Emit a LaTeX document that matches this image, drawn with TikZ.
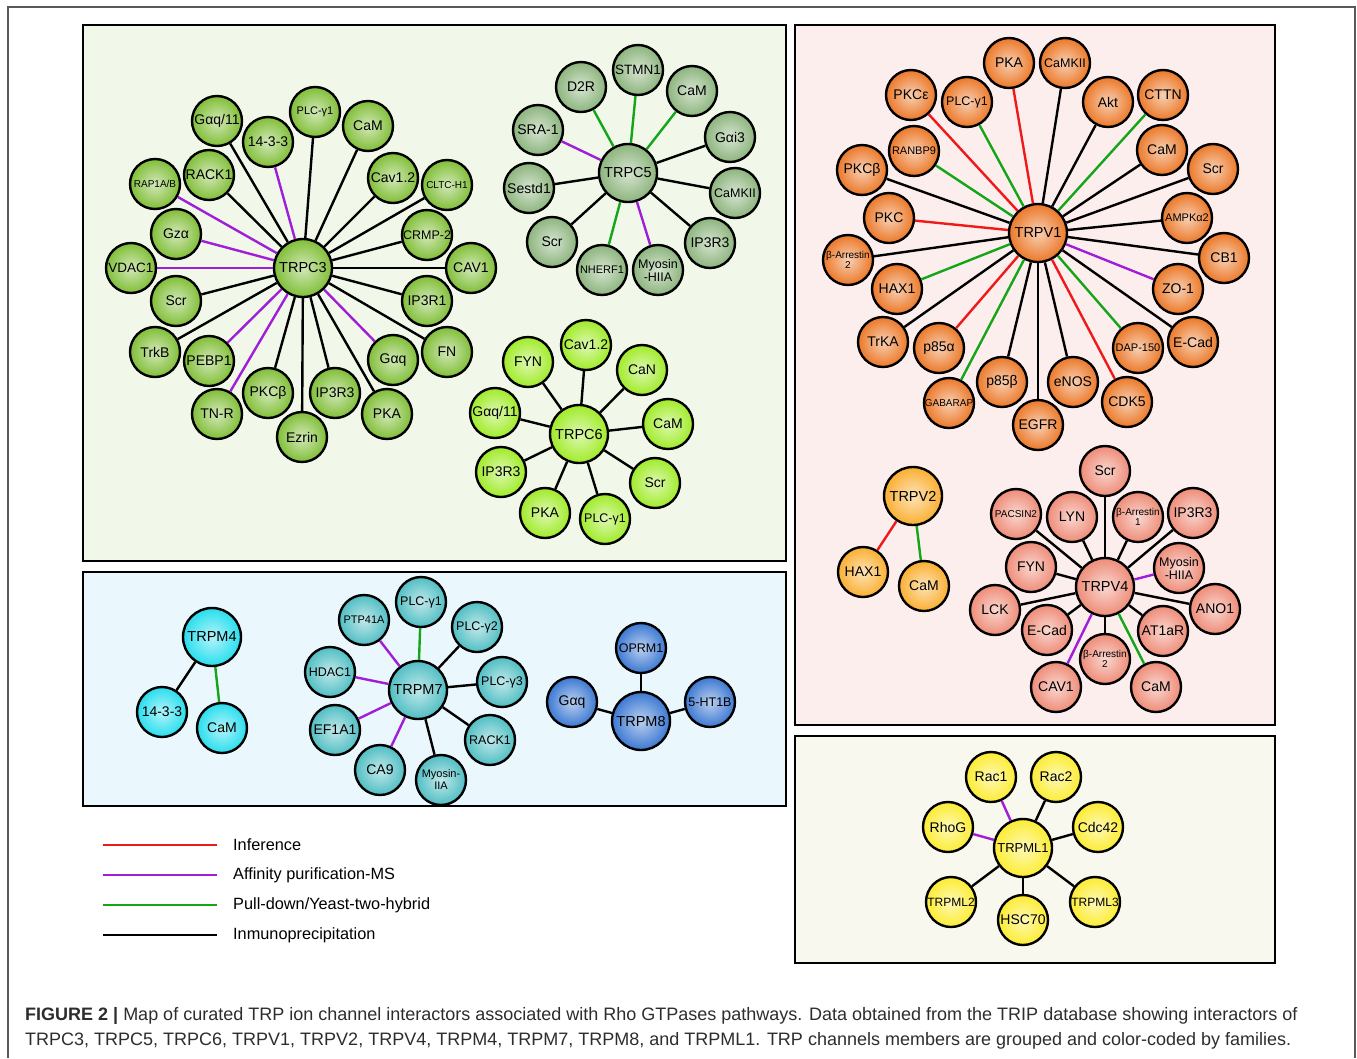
\documentclass[tikz,border=0pt]{standalone}
\usepackage{fontspec}
\setmainfont{Liberation Sans}
\usepackage{tikz}

\definecolor{infred}{RGB}{240,25,25}
\definecolor{affpur}{RGB}{160,30,215}
\definecolor{pullgrn}{RGB}{20,165,25}
\definecolor{capgray}{RGB}{45,45,45}
\definecolor{pgreen}{RGB}{241,248,234}
\definecolor{pblue}{RGB}{234,248,253}
\definecolor{ppink}{RGB}{253,238,238}
\definecolor{pyell}{RGB}{248,248,238}
\definecolor{c3col}{RGB}{128,190,55}
\definecolor{c5col}{RGB}{140,180,125}
\definecolor{c6col}{RGB}{160,235,40}
\definecolor{v1col}{RGB}{235,120,40}
\definecolor{v2col}{RGB}{250,175,50}
\definecolor{v4col}{RGB}{238,140,120}
\definecolor{m4col}{RGB}{40,222,238}
\definecolor{m7col}{RGB}{80,190,195}
\definecolor{m8col}{RGB}{60,120,210}
\definecolor{mlcol}{RGB}{252,236,50}

\begin{document}
\begin{tikzpicture}[x=1pt, y=-1pt,
    hub/.style={circle, draw, line width=2.4pt, minimum size=58pt, inner sep=0pt, align=center, font=\fontsize{14.5}{15}\selectfont},
    sat/.style={circle, draw, line width=2.4pt, minimum size=50pt, inner sep=0pt, align=center, font=\fontsize{14}{15}\selectfont},
    nm/.style={},
    lg/.style={font=\fontsize{13.5}{14}\selectfont},
    md/.style={font=\fontsize{12.5}{13}\selectfont},
    mt/.style={font=\fontsize{12}{13}\selectfont},
    sm/.style={font=\fontsize{11}{12}\selectfont},
    xs/.style={font=\fontsize{10}{10.5}\selectfont},
    link/.style={line width=2.4pt},
    infer/.style={link, draw=infred},
    affms/.style={link, draw=affpur},
    pulldn/.style={link, draw=pullgrn},
    immuno/.style={link, draw=black},
    panel/.style={draw, line width=2.5pt},
    shc3/.style={inner color=c3col!35!white, outer color=c3col},
    shc5/.style={inner color=c5col!35!white, outer color=c5col},
    shc6/.style={inner color=c6col!35!white, outer color=c6col},
    shv1/.style={inner color=v1col!35!white, outer color=v1col},
    shv2/.style={inner color=v2col!35!white, outer color=v2col},
    shv4/.style={inner color=v4col!35!white, outer color=v4col},
    shm4/.style={inner color=m4col!35!white, outer color=m4col},
    shm7/.style={inner color=m7col!35!white, outer color=m7col},
    shm8/.style={inner color=m8col!35!white, outer color=m8col},
    shml/.style={inner color=mlcol!35!white, outer color=mlcol},
]
\useasboundingbox (0,0) rectangle (1357,1058);
\fill[white] (0,0) rectangle (1357,1058);
\draw[gray!70!black, line width=1.3pt] (8,1058) -- (8,7) -- (1355,7) -- (1355,1058);

% panels
\draw[panel, fill=pgreen] (83,25) rectangle (786,561);
\draw[panel, fill=pblue] (83,572) rectangle (786,806);
\draw[panel, fill=ppink] (795,25) rectangle (1275,725);
\draw[panel, fill=pyell] (795,736) rectangle (1275,963);

% TRPC3
\node[hub, shc3] (trpc3) at (303,268) {TRPC3};
\foreach \x/\y/\t/\c/\f [count=\i] in {
  217/121/{Gαq/11}/immuno/nm, 268/142/14-3-3/affms/nm, 315/112/PLC-γ1/immuno/sm, 368/126/CaM/immuno/nm,
  393/178/Cav1.2/immuno/nm, 447/185/CLTC-H1/immuno/xs, 427/235/CRMP-2/immuno/md, 471/268/CAV1/immuno/nm,
  427/301/IP3R1/immuno/nm, 447/352/FN/immuno/nm, 393/360/Gαq/affms/nm, 387/414/PKA/immuno/nm,
  335/393/IP3R3/immuno/nm, 302/437/Ezrin/immuno/nm, 268/393/PKCβ/immuno/nm, 217/414/TN-R/affms/nm,
  209/361/PEBP1/affms/nm, 155/352/TrkB/immuno/nm, 176/301/Scr/immuno/nm, 131/268/VDAC1/affms/lg,
  176/234/Gzα/affms/nm, 155/184/{RAP1A/B}/affms/xs, 209/175/RACK1/immuno/nm}
{
  \node[sat, shc3, \f] (c3-\i) at (\x,\y) {\t};
  \draw[\c] (trpc3) -- (c3-\i);
}

% TRPC5
\node[hub, shc5] (trpc5) at (628,173) {TRPC5};
\foreach \x/\y/\t/\c/\f [count=\i] in {
  638/70/STMN1/pulldn/lg, 581/87/D2R/pulldn/nm, 692/91/CaM/pulldn/nm, 538/130/SRA-1/affms/nm,
  730/137/Gαi3/immuno/nm, 529/188/Sestd1/immuno/nm, 735/193/CaMKII/immuno/md, 552/242/Scr/immuno/nm,
  710/243/IP3R3/immuno/nm, 602/270/NHERF1/pulldn/sm, 658/270/{Myosin\\-HIIA}/affms/md}
{
  \node[sat, shc5, \f] (c5-\i) at (\x,\y) {\t};
  \draw[\c] (trpc5) -- (c5-\i);
}

% TRPC6
\node[hub, shc6] (trpc6) at (579,434) {TRPC6};
\foreach \x/\y/\t/\f [count=\i] in {
  586/345/Cav1.2/nm, 528/362/FYN/nm, 642/370/CaN/nm, 495/413/{Gαq/11}/nm, 668/424/CaM/nm,
  501/472/IP3R3/nm, 655/483/Scr/nm, 545/513/PKA/nm, 605/519/PLC-γ1/md}
{
  \node[sat, shc6, \f] (c6-\i) at (\x,\y) {\t};
  \draw[immuno] (trpc6) -- (c6-\i);
}

% TRPV1
\node[hub, shv1] (trpv1) at (1038,233) {TRPV1};
\foreach \x/\y/\t/\c/\f [count=\i] in {
  1009/63/PKA/infer/nm, 1065/63/CaMKII/immuno/md, 911/95/PKCε/infer/nm, 967/102/PLC-γ1/pulldn/md,
  1108/102/Akt/immuno/nm, 1163/95/CTTN/pulldn/nm, 914/151/RANBP9/pulldn/sm, 1162/150/CaM/immuno/nm,
  862/170/PKCβ/immuno/nm, 1213/169/Scr/immuno/nm, 889/218/PKC/infer/nm, 1187/218/AMPKα2/immuno/sm,
  848/260/{β-Arrestin\\2}/immuno/xs, 1224/258/CB1/immuno/nm, 897/289/HAX1/pulldn/nm, 1178/289/ZO-1/affms/nm,
  883/342/TrKA/immuno/nm, 939/348/p85α/infer/nm, 1138/348/DAP-150/pulldn/sm, 1193/342/E-Cad/immuno/nm,
  949/403/GABARAP/pulldn/xs, 1002/382/p85β/immuno/nm, 1073/382/eNOS/immuno/nm, 1127/402/CDK5/infer/nm,
  1038/425/EGFR/immuno/nm}
{
  \node[sat, shv1, \f] (v1-\i) at (\x,\y) {\t};
  \draw[\c] (trpv1) -- (v1-\i);
}

% TRPV2
\node[hub, shv2] (trpv2) at (913,496) {TRPV2};
\node[sat, shv2] (v2-1) at (863,572) {HAX1};
\node[sat, shv2] (v2-2) at (924,586) {CaM};
\draw[infer] (trpv2) -- (v2-1);
\draw[pulldn] (trpv2) -- (v2-2);

% TRPV4
\node[hub, shv4] (trpv4) at (1105,587) {TRPV4};
\foreach \x/\y/\t/\c/\f [count=\i] in {
  1105/471/Scr/immuno/nm, 1016/514/PACSIN2/immuno/xs, 1072/517/LYN/immuno/nm, 1138/517/{β-Arrestin\\1}/immuno/xs,
  1193/513/IP3R3/immuno/nm, 1031/567/FYN/immuno/nm, 1179/568/{Myosin\\-HIIA}/affms/md, 995/610/LCK/immuno/nm,
  1215/609/ANO1/immuno/nm, 1047/630/E-Cad/immuno/nm, 1163/631/AT1aR/immuno/nm, 1105/659/{β-Arrestin\\2}/immuno/xs,
  1056/687/CAV1/affms/nm, 1156/687/CaM/pulldn/nm}
{
  \node[sat, shv4, \f] (v4-\i) at (\x,\y) {\t};
  \draw[\c] (trpv4) -- (v4-\i);
}

% TRPM4
\node[hub, shm4] (trpm4) at (212,637) {TRPM4};
\node[sat, shm4] (m4-1) at (162,712) {14-3-3};
\node[sat, shm4] (m4-2) at (222,728) {CaM};
\draw[immuno] (trpm4) -- (m4-1);
\draw[pulldn] (trpm4) -- (m4-2);

% TRPM7
\node[hub, shm7] (trpm7) at (418,690) {TRPM7};
\foreach \x/\y/\t/\c/\f [count=\i] in {
  421/602/PLC-γ1/pulldn/md, 364/620/PTP41A/affms/sm, 477/627/PLC-γ2/immuno/md, 330/672/HDAC1/affms/md,
  502/682/PLC-γ3/immuno/md, 335/730/EF1A1/affms/nm, 490/740/RACK1/immuno/md, 380/770/CA9/affms/nm,
  441/780/{Myosin-\\IIA}/immuno/sm}
{
  \node[sat, shm7, \f] (m7-\i) at (\x,\y) {\t};
  \draw[\c] (trpm7) -- (m7-\i);
}

% TRPM8
\node[hub, shm8] (trpm8) at (641,721) {TRPM8};
\foreach \x/\y/\t/\f [count=\i] in {641/648/OPRM1/md, 572/702/Gαq/nm, 710/702/5-HT1B/md}
{
  \node[sat, shm8, \f] (m8-\i) at (\x,\y) {\t};
  \draw[immuno] (trpm8) -- (m8-\i);
}

% TRPML1
\node[hub, shml, font=\fontsize{13}{14}\selectfont] (trpml1) at (1023,848) {TRPML1};
\foreach \x/\y/\t/\c/\f [count=\i] in {
  991/777/Rac1/affms/nm, 1056/777/Rac2/immuno/nm, 948/827/RhoG/affms/nm, 1098/827/Cdc42/immuno/nm,
  951/902/TRPML2/immuno/mt, 1023/920/HSC70/immuno/nm, 1095/902/TRPML3/immuno/mt}
{
  \node[sat, shml, \f] (ml-\i) at (\x,\y) {\t};
  \draw[\c] (trpml1) -- (ml-\i);
}

% legend
\foreach \y/\c/\t [count=\i] in {845/infred/Inference, 875/affpur/Affinity purification-MS,
    905/pullgrn/{Pull-down/Yeast-two-hybrid}, 935/black/Inmunoprecipitation}
{
  \draw[draw=\c, line width=2.6pt] (103,\y) -- (217,\y);
  \node[anchor=west, inner sep=0pt, font=\fontsize{16.3}{18}\selectfont] (leg-\i) at (233,\y) {\t};
}

% caption
\node[anchor=base west, inner sep=0pt, text=capgray, font=\fontsize{18}{20}\selectfont] (cap1) at (25,1020)
  {\textbf{FIGURE 2 |} Map of curated TRP ion channel interactors associated with Rho GTPases pathways. Data obtained from the TRIP database showing interactors of};
\node[anchor=base west, inner sep=0pt, text=capgray, font=\fontsize{18}{20}\selectfont] (cap2) at (25,1045)
  {TRPC3, TRPC5, TRPC6, TRPV1, TRPV2, TRPV4, TRPM4, TRPM7, TRPM8, and TRPML1. TRP channels members are grouped and color-coded by families.};
\end{tikzpicture}
\end{document}
